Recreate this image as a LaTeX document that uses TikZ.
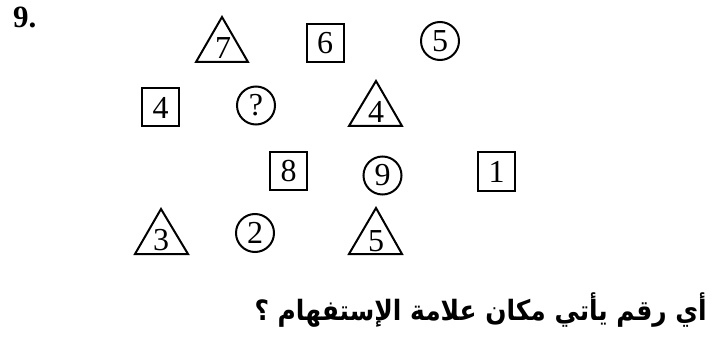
\documentclass[tikz,border=0pt]{standalone}
\usepackage{fontspec}
\setmainfont{Liberation Serif}
\newfontfamily\arabicfont[Script=Arabic]{DejaVu Sans}
\TeXXeTstate=1
\begin{document}
\begin{tikzpicture}[x=1pt,y=-1pt,
  digit/.style={font=\fontsize{32}{32}\selectfont, inner sep=0pt},
  sq/.style={digit, draw, line width=2pt, minimum width=37pt, minimum height=38pt},
  rd/.style={digit, draw, circle, line width=2pt, minimum size=38pt},
  tri/.style={line width=2pt, line join=miter}]
\useasboundingbox (0,0) rectangle (712,342);
% number
\node[font=\fontsize{31}{31}\selectfont\bfseries, inner sep=0pt, anchor=base west] (num) at (13,28) {9.};
% row 1
\coordinate (t7a) at (222,17);
\draw[tri] (196,62) -- (t7a) -- (248,62) -- cycle;
\node[digit, anchor=base] (t7) at (223,59) {7};
\node[sq] (s6) at (325,43) {6};
\node[rd] (c5) at (440,41) {5};
% row 2
\node[sq] (s4) at (160.5,107.5) {4};
\node[rd] (cq) at (256,105.5) {?};
\coordinate (t4a) at (376,81);
\draw[tri] (349,126) -- (t4a) -- (402,126) -- cycle;
\node[digit, anchor=base] (t4) at (376,123) {4};
% row 3
\node[sq] (s8) at (288.5,171) {8};
\node[rd] (c9) at (382.5,175.5) {9};
\node[sq] (s1) at (496.5,171.5) {1};
% row 4
\coordinate (t3a) at (161,209);
\draw[tri] (135,254) -- (t3a) -- (188,254) -- cycle;
\node[digit, anchor=base] (t3) at (161,250) {3};
\node[rd] (c2) at (255,233) {2};
\coordinate (t5a) at (376,208);
\draw[tri] (349,254) -- (t5a) -- (402,254) -- cycle;
\node[digit, anchor=base] (t5) at (376,251) {5};
% question
\node[anchor=base east, inner sep=0pt] (q) at (707,320) {\arabicfont\bfseries\fontsize{28}{28}\selectfont\scalebox{0.89}[1]{\beginR أي رقم يأتي مكان علامة الإستفهام ؟\endR}};
\end{tikzpicture}
\end{document}
